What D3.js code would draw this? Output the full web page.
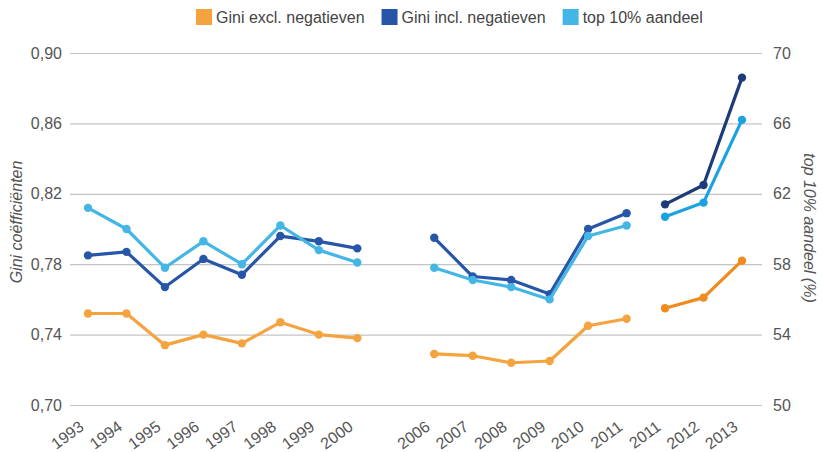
<!DOCTYPE html>
<html>
<head>
<meta charset="utf-8">
<script src="https://cdn.jsdelivr.net/npm/d3@7"></script>
<style>
  body { margin: 0; background: #fff; }
  svg { font-family: "Liberation Sans", Arial, sans-serif; }
</style>
</head>
<body>
<div id="root"></div>
<script>
// categories along the x axis ("" = empty slot between 2000 and 2006)
var years = ["1993", "1994", "1995", "1996", "1997", "1998", "1999", "2000", "",
             "2006", "2007", "2008", "2009", "2010", "2011",
             "2011", "2012", "2013"];
// which line piece each category belongs to (null = no point)
var segment = [0, 0, 0, 0, 0, 0, 0, 0, null, 1, 1, 1, 1, 1, 1, 2, 2, 2];

// left axis (Gini)
var giniExcl = [0.752, 0.752, 0.734, 0.740, 0.735, 0.747, 0.740, 0.738, null,
                0.729, 0.728, 0.724, 0.725, 0.745, 0.749,
                0.755, 0.761, 0.782];
var giniIncl = [0.785, 0.787, 0.767, 0.783, 0.774, 0.796, 0.793, 0.789, null,
                0.795, 0.773, 0.771, 0.763, 0.800, 0.809,
                0.814, 0.825, 0.886];
// right axis (%)
var top10 = [61.2, 60.0, 57.8, 59.3, 58.0, 60.2, 58.8, 58.1, null,
             57.8, 57.1, 56.7, 56.0, 59.6, 60.2,
             60.7, 61.5, 66.2];

var leftTicks = [0.70, 0.74, 0.78, 0.82, 0.86, 0.90];
var rightTicks = [50, 54, 58, 62, 66, 70];

var seriesNames = ["Gini excl. negatieven", "Gini incl. negatieven", "top 10% aandeel"];

function plotChart() {
    var width = 822;
    var height = 452;

    var svg = d3.select("#root")
        .append("svg")
        .attr("width", width)
        .attr("height", height);

    var x = d3.scaleLinear().domain([0, years.length - 1]).range([88, 742]);
    var yL = d3.scaleLinear().domain([0.70, 0.90]).range([405, 53]);
    var yR = d3.scaleLinear().domain([50, 70]).range([405, 53]);

    var comma = function (v) { return d3.format(".2f")(v).replace(".", ","); };

    // left axis with gridlines
    var leftAxis = svg.append("g")
        .attr("transform", "translate(70,0)")
        .call(d3.axisLeft(yL).tickValues(leftTicks).tickFormat(comma)
            .tickSizeInner(-692).tickSizeOuter(0).tickPadding(8));
    leftAxis.select(".domain").remove();
    leftAxis.selectAll("line").attr("stroke", "#c4c4c4").attr("stroke-width", 1.2);
    leftAxis.selectAll("text").attr("fill", "#555").attr("font-size", 16);

    var rightAxis = svg.append("g")
        .attr("transform", "translate(762,0)")
        .call(d3.axisRight(yR).tickValues(rightTicks).tickSize(0).tickPadding(11));
    rightAxis.select(".domain").remove();
    rightAxis.selectAll("text").attr("fill", "#555").attr("font-size", 16);

    // x labels
    svg.append("g")
        .selectAll("text")
        .data(years)
        .join("text")
        .attr("transform", function (d, i) { return "translate(" + (x(i) - 3) + ",429) rotate(-36)"; })
        .attr("text-anchor", "end")
        .attr("fill", "#555")
        .attr("font-size", 16)
        .text(function (d) { return d; });

    // axis titles
    svg.append("text")
        .attr("transform", "translate(22,222) rotate(-90)")
        .attr("text-anchor", "middle")
        .attr("font-style", "italic")
        .attr("font-size", 16)
        .attr("fill", "#555")
        .text("Gini coëfficiënten");

    svg.append("text")
        .attr("transform", "translate(804,228) rotate(90)")
        .attr("text-anchor", "middle")
        .attr("font-style", "italic")
        .attr("font-size", 16)
        .attr("fill", "#555")
        .text("top 10% aandeel (%)");

    // colours per series, darker shade for the last piece
    var series = [
        { values: giniExcl, y: yL, colors: ["#f5a33e", "#f5a33e", "#ef8b1f"] },
        { values: giniIncl, y: yL, colors: ["#2756a8", "#2756a8", "#1c3b78"] },
        { values: top10, y: yR, colors: ["#44b6e6", "#44b6e6", "#1ca2e0"] }
    ];

    series.forEach(function (s) {
        [0, 1, 2].forEach(function (seg) {
            var pts = d3.range(years.length).filter(function (i) {
                return segment[i] === seg && s.values[i] != null;
            });
            var line = d3.line()
                .x(function (i) { return x(i); })
                .y(function (i) { return s.y(s.values[i]); });

            svg.append("path")
                .datum(pts)
                .attr("fill", "none")
                .attr("stroke", s.colors[seg])
                .attr("stroke-width", 3.2)
                .attr("stroke-linejoin", "round")
                .attr("d", line);

            svg.append("g")
                .selectAll("circle")
                .data(pts)
                .join("circle")
                .attr("cx", function (i) { return x(i); })
                .attr("cy", function (i) { return s.y(s.values[i]); })
                .attr("r", 4.2)
                .attr("fill", s.colors[seg]);
        });
    });

    // legend
    var legend = svg.append("g").attr("transform", "translate(196,9)");
    var lx = 0;
    seriesNames.forEach(function (name, k) {
        var item = legend.append("g").attr("transform", "translate(" + lx + ",0)");
        item.append("rect")
            .attr("width", 16).attr("height", 16)
            .attr("fill", series[k].colors[0]);
        var t = item.append("text")
            .attr("x", 20).attr("y", 13.5)
            .attr("font-size", 16)
            .attr("fill", "#444")
            .text(name);
        lx += 20 + t.node().getComputedTextLength() + 17;
    });
}

plotChart();
</script>
</body>
</html>
